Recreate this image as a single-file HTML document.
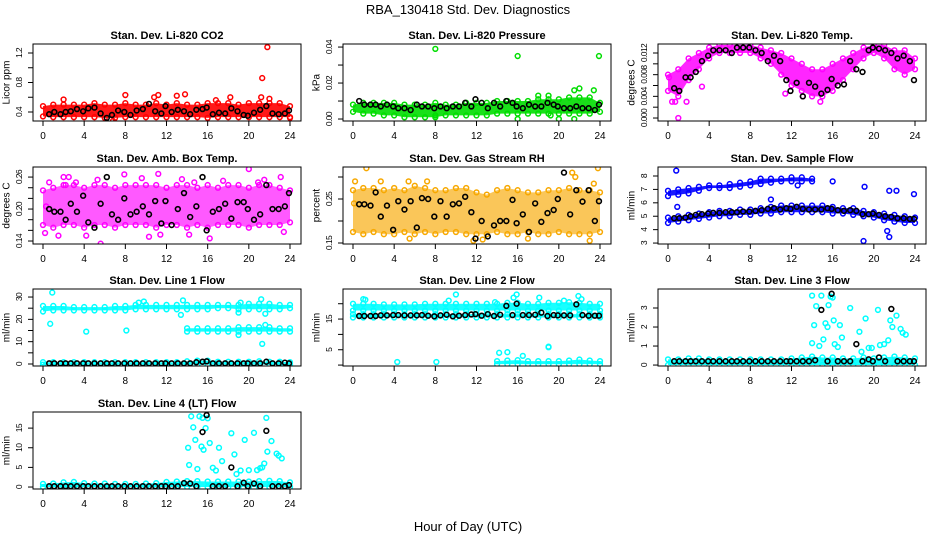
<!DOCTYPE html>
<html><head><meta charset="utf-8"><style>
html,body{margin:0;padding:0;background:#fff;}
svg{display:block;font-family:"Liberation Sans",Arial,sans-serif;}
</style></head><body>
<svg id="chart" width="936" height="540" viewBox="0 0 936 540" xmlns="http://www.w3.org/2000/svg">
<rect width="936" height="540" fill="#fff"/>
<text x="468" y="14" text-anchor="middle" font-size="13">RBA_130418  Std. Dev. Diagnostics</text>
<text x="468" y="531" text-anchor="middle" font-size="13">Hour of Day (UTC)</text>
</svg>
<script>
const bandHours = [0,1,2,3,4,5,6,7,8,9,10,11,12,13,14,15,16,17,18,19,20,21,22,23,24];
const blackHours = [0.6,1.1,1.7,2.2,2.7,3.3,3.9,4.4,5.0,5.6,6.2,6.7,7.3,7.9,8.5,9.1,9.7,10.3,10.9,11.5,11.9,12.5,13.1,13.7,14.3,14.9,15.5,15.9,16.5,17.1,17.7,18.3,18.9,19.5,19.9,20.5,21.1,21.7,22.3,22.9,23.5,23.9];
const xTicks = [0,4,8,12,16,20,24];

// Panel 1: CO2
const p1Lo = [0.34,0.33,0.33,0.33,0.33,0.33,0.32,0.32,0.33,0.33,0.33,0.33,0.33,0.33,0.33,0.33,0.32,0.33,0.33,0.33,0.33,0.33,0.33,0.33,0.33];
const p1Hi = [0.48,0.5,0.5,0.5,0.5,0.52,0.5,0.5,0.52,0.5,0.5,0.52,0.5,0.52,0.5,0.5,0.52,0.52,0.52,0.5,0.52,0.52,0.52,0.52,0.48];
const p1OutX = [2,8,11.2,13,13.8,18.2,21.3,21.8,21.2,22,6.8,24,16.8,10.8];
const p1OutY = [0.57,0.63,0.63,0.62,0.64,0.6,0.86,1.28,0.6,0.58,0.28,0.32,0.56,0.6];
const p1Black = [0.37,0.4,0.37,0.4,0.41,0.44,0.41,0.45,0.46,0.38,0.32,0.36,0.42,0.4,0.36,0.42,0.44,0.51,0.41,0.38,0.48,0.4,0.43,0.41,0.37,0.43,0.44,0.46,0.37,0.39,0.38,0.45,0.41,0.36,0.35,0.39,0.43,0.48,0.38,0.37,0.38,0.42];
const p1Ticks = [0.4,0.6,0.8,1.0,1.2];
const p1Labels = ["0.4","","0.8","","1.2"];

// Panel 2: Pressure
const p2Lo = [0.004,0.003,0.003,0.002,0.002,0.001,0.001,0.001,0.001,0.002,0.002,0.002,0.002,0.002,0.003,0.003,0.003,0.003,0.003,0.003,0.003,0.003,0.003,0.003,0.004];
const p2Hi = [0.008,0.009,0.009,0.009,0.009,0.008,0.008,0.008,0.009,0.008,0.008,0.009,0.009,0.009,0.01,0.01,0.01,0.01,0.011,0.011,0.011,0.012,0.012,0.012,0.009];
const p2OutX = [8,16,23.9,21.5,22,23.4,18,19,16,21.5,20,8,19.2];
const p2OutY = [0.039,0.035,0.035,0.016,0.017,0.016,0.013,0.013,0.0,0.0,0.0,0.002,0.002];
const p2Black = [0.01,0.008,0.008,0.008,0.007,0.008,0.007,0.006,0.006,0.005,0.008,0.007,0.007,0.006,0.007,0.006,0.007,0.007,0.009,0.007,0.011,0.009,0.006,0.009,0.007,0.01,0.009,0.007,0.006,0.008,0.007,0.007,0.009,0.008,0.007,0.006,0.006,0.007,0.006,0.006,0.005,0.008];
const p2Ticks = [0,0.01,0.02,0.03,0.04];
const p2Labels = ["0.00","","0.02","","0.04"];

// Panel 3: Temp
const p3Lo = [0.005,0.004,0.007,0.009,0.011,0.012,0.012,0.012,0.012,0.011,0.010,0.008,0.006,0.005,0.004,0.004,0.005,0.007,0.009,0.011,0.012,0.011,0.009,0.008,0.009];
const p3Hi = [0.008,0.009,0.011,0.012,0.013,0.0135,0.0135,0.0135,0.0135,0.013,0.0125,0.012,0.011,0.010,0.009,0.009,0.010,0.011,0.012,0.013,0.0135,0.0135,0.0125,0.0125,0.011];
const p3OutX = [1,0.4,0.7,1.8,3.3,11.4,14.8,13.1,0.1];
const p3OutY = [0,0.003,0.003,0.003,0.0058,0.0045,0.003,0.004,0.0075];
const p3Black = [0.0055,0.005,0.0075,0.0075,0.0085,0.0105,0.0115,0.0125,0.0125,0.0125,0.012,0.013,0.013,0.013,0.0125,0.012,0.0105,0.0115,0.0105,0.007,0.005,0.0065,0.004,0.0065,0.0058,0.0045,0.0052,0.0072,0.006,0.0062,0.0105,0.009,0.0085,0.0125,0.013,0.0128,0.0125,0.012,0.011,0.0115,0.0105,0.007];
const p3Ticks = [0,0.002,0.004,0.006,0.008,0.010,0.012];
const p3Labels = ["0.000","","0.004","","0.008","","0.012"];

// Panel 4: Amb box temp
const p4Lo = [0.17,0.165,0.17,0.17,0.165,0.17,0.17,0.165,0.17,0.17,0.17,0.165,0.17,0.17,0.165,0.17,0.165,0.17,0.17,0.17,0.165,0.17,0.17,0.17,0.175];
const p4Hi = [0.235,0.24,0.245,0.245,0.24,0.245,0.245,0.24,0.245,0.245,0.245,0.245,0.24,0.245,0.245,0.24,0.245,0.24,0.245,0.245,0.24,0.245,0.245,0.24,0.235];
const p4OutX = [0.2,0.6,1.5,2.0,2.5,3.2,4.2,5.6,5.3,7.9,9.6,10.3,11.2,11.4,13.5,14.7,14.2,16.2,17.5,20,21.5,23.1,23.4,20.9,2.2,0.3];
const p4OutY = [0.155,0.25,0.15,0.26,0.26,0.25,0.15,0.135,0.255,0.265,0.258,0.148,0.266,0.152,0.256,0.25,0.152,0.145,0.253,0.275,0.255,0.26,0.157,0.25,0.245,0.205];
const p4Black = [0.2,0.195,0.195,0.18,0.21,0.195,0.225,0.175,0.165,0.21,0.26,0.19,0.18,0.22,0.19,0.195,0.205,0.19,0.215,0.173,0.215,0.17,0.2,0.23,0.185,0.205,0.26,0.16,0.195,0.2,0.21,0.182,0.213,0.213,0.2,0.18,0.19,0.245,0.2,0.2,0.205,0.23];
const p4Ticks = [0.14,0.16,0.18,0.20,0.22,0.24,0.26];
const p4Labels = ["0.14","","","0.20","","","0.26"];

// Panel 5: Gas stream RH
const p5Lo = [0.175,0.17,0.175,0.17,0.17,0.175,0.17,0.175,0.17,0.175,0.175,0.17,0.17,0.17,0.175,0.17,0.17,0.175,0.17,0.17,0.175,0.17,0.17,0.17,0.175];
const p5Hi = [0.27,0.275,0.275,0.27,0.275,0.27,0.28,0.275,0.27,0.27,0.275,0.275,0.265,0.26,0.27,0.275,0.27,0.265,0.265,0.27,0.27,0.275,0.27,0.27,0.265];
const p5OutX = [0.2,1.3,2.7,5.4,7.2,0.1,21.3,21.6,23.8,23.4,23,12.6,17,5.5,11.7];
const p5OutY = [0.29,0.32,0.29,0.29,0.29,0.24,0.31,0.3,0.32,0.285,0.155,0.158,0.16,0.16,0.155];
const p5Black = [0.238,0.238,0.235,0.265,0.21,0.235,0.18,0.245,0.226,0.245,0.185,0.252,0.25,0.21,0.245,0.21,0.238,0.24,0.255,0.22,0.16,0.2,0.165,0.19,0.2,0.2,0.248,0.195,0.215,0.175,0.24,0.198,0.218,0.225,0.25,0.31,0.215,0.27,0.244,0.27,0.2,0.245];
const p5Ticks = [0.15,0.20,0.25,0.30];
const p5Labels = ["0.15","","0.25",""];

// Panel 6: Sample flow
const p6Lo = [4.5,4.6,4.7,4.8,4.9,5.0,5.0,5.1,5.1,5.2,5.2,5.3,5.3,5.3,5.3,5.3,5.2,5.2,5.1,5.0,4.9,4.7,4.6,4.5,4.5];
const p6Hi = [4.9,5.0,5.1,5.2,5.3,5.4,5.4,5.5,5.5,5.6,5.7,5.8,5.8,5.8,5.8,5.8,5.7,5.6,5.6,5.4,5.3,5.2,5.1,5.0,4.9];
const p6Lo2 = [6.5,6.6,6.7,6.9,7.1,7.1,7.1,7.2,7.3,7.4,7.5,7.6,7.6,7.6,7.6,null,null,null,null,null,null,null,null,null,null];
const p6Hi2 = [6.9,7.0,7.1,7.2,7.3,7.3,7.4,7.5,7.6,7.8,7.8,7.8,7.9,7.9,7.8,null,null,null,null,null,null,null,null,null,null];
const p6OutX = [0.8,0.9,16,19.1,21.5,22.2,23.9,19,21.5,21.3,10,12.6];
const p6OutY = [8.4,5.7,7.6,7.2,6.9,6.9,6.65,3.15,3.45,3.9,6.25,7.3];
const p6Black = [4.85,4.85,4.9,5.0,5.1,5.15,5.2,5.25,5.25,5.3,5.3,5.3,5.35,5.35,5.4,5.45,5.55,5.6,5.5,5.6,5.55,5.7,5.55,5.5,5.5,5.5,5.6,5.55,5.45,5.4,5.45,5.4,5.15,5.15,5.2,5.1,5.0,4.95,4.85,4.85,4.8,4.8];
const p6Ticks = [3,4,5,6,7,8];
const p6Labels = ["3","4","5","6","7","8"];

// Panel 7: Line 1 flow
const p7Lo = [23.5,24,24,24,24,24,24,24,24,24.5,24.5,24.5,24.5,24.5,24.5,24.5,24.5,25,25,24.5,24.5,24.5,24.5,24.5,25];
const p7Hi = [26,26,26,25.5,25.5,25.5,25.5,26,26,26.5,26.5,26.5,26.5,26.5,26.5,26.5,26.5,26.5,26.5,26.5,27,27,27,26.5,26.5];
const p7Lo2 = [null,null,null,null,null,null,null,null,null,null,null,null,null,null,14.5,14.5,14.5,14.5,14.5,14.5,14.5,14.5,14.5,14.5,14.5];
const p7Hi2 = [null,null,null,null,null,null,null,null,null,null,null,null,null,null,16,16,16,16,16,16.5,16.5,16.5,16.5,16,16];
const p7Lo3 = [-0.3,-0.3,-0.3,-0.3,-0.3,-0.3,-0.3,-0.3,-0.3,-0.3,-0.3,-0.3,-0.3,-0.3,-0.3,-0.3,-0.3,-0.3,-0.3,-0.3,-0.3,-0.3,-0.3,-0.3,-0.3];
const p7Hi3 = [0.8,0.8,0.8,0.8,0.8,0.8,0.8,0.8,0.8,0.8,0.8,0.8,0.8,0.8,1.2,1.5,1.5,1.0,1.0,1.0,1.0,1.2,1.0,1.0,0.8];
const p7OutX = [0.9,0.7,4.2,8.1,9.3,9.8,13.6,13.4,21.2,21.3,19,21.6,21.6,19.2,19];
const p7OutY = [32,18,14.5,15,27.5,28,28.5,22,29,9,23,17.5,22.5,27.5,13];
const p7Black = [0.3,0.3,0.3,0.3,0.3,0.3,0.3,0.3,0.3,0.3,0.3,0.3,0.3,0.3,0.3,0.3,0.3,0.3,0.3,0.3,0.3,0.3,0.3,0.3,0.3,0.8,1.0,1.2,0.3,0.3,0.3,0.3,0.3,0.3,0.3,0.3,0.3,1.0,0.3,0.3,0.6,0.3];
const p7Ticks = [0,5,10,15,20,25,30];
const p7Labels = ["0","","10","","20","","30"];

// Panel 8: Line 2 flow
const p8Lo = [17.8,17.8,17.8,17.8,17.8,17.8,17.8,17.8,17.8,17.8,17.8,17.8,17.8,17.8,17.8,17.8,17.8,17.8,17.8,17.8,17.8,17.8,17.8,17.8,17.8];
const p8Hi = [20,20,20,19.8,19.8,19.8,19.8,20,20,20,20,20,20,20,20,20.3,20.3,20,20,20.3,20.3,20.5,20.3,20,20];
const p8Lo2 = [15.5,15.5,15.5,15.5,15.5,15.5,15.5,15.5,15.5,15.5,15.5,15.5,15.5,15.5,15.5,15.5,15.5,15.5,15.5,15.5,15.5,15.5,15.5,15.5,15.5];
const p8Hi2 = [16.6,16.6,16.6,16.6,16.6,16.6,16.6,16.6,16.6,16.6,16.6,16.6,16.6,16.6,16.6,16.6,16.6,16.6,16.6,16.6,16.6,16.6,16.6,16.6,16.6];
const p8Lo3 = [null,null,null,null,null,null,null,null,null,null,null,null,null,null,0.3,0.3,0.3,0.3,0.3,0.3,0.3,0.3,0.3,0.3,0.3];
const p8Hi3 = [null,null,null,null,null,null,null,null,null,null,null,null,null,null,1.3,1.5,1.6,1.3,1.3,1.3,1.3,1.5,1.8,1.5,1.3];
const p8OutX = [1,1.2,4.3,8.1,9.3,10,15.6,15.9,18.1,19,20.5,21.9,22.2,14.2,15,19,13.8,16.5];
const p8OutY = [21.5,21.3,1.0,1.0,21,23,22,23,22,6,21,22.5,21.5,4,4.2,5.8,20.5,3];
const p8Black = [16,16,16,16,16.2,16.2,16.3,16.3,16.2,16.2,16.2,16.3,16.1,15.9,16.2,16.4,15.9,16.1,16.3,16.5,16.6,16.1,16.6,16.0,16.4,19.3,16.3,20.0,16.3,16.3,16.4,17.1,16.0,16.3,16.2,16.2,16.2,19.8,16.3,16.1,16.1,16.1];
const p8Ticks = [0,5,10,15,20];
const p8Labels = ["","5","","15",""];

// Panel 9: Line 3 flow
const p9Lo = [0,0,0,0,0,0,0,0,0,0,0,0,0,0,0,0,0,0,0,0,0,0,0,0,0];
const p9Hi = [0.3,0.3,0.35,0.35,0.3,0.3,0.3,0.3,0.3,0.3,0.3,0.3,0.35,0.4,0.45,0.4,0.4,0.35,0.35,0.4,0.35,0.4,0.45,0.4,0.35];
const p9OutX = [14,14.2,14.4,14.7,14.9,15.1,15.3,15.5,15.6,15.8,16,16.1,16.2,16.5,16.7,16.9,17.7,18.6,18.8,19.2,19.5,19.8,20.4,20.6,21,21.4,21.6,21.8,22.2,22.6,23.1,22.8,14];
const p9OutY = [3.65,2.1,3.1,1.0,3.65,1.35,2.2,2.0,3.15,3.6,3.55,2.35,1.1,0.95,2.1,1.45,3.0,1.75,0.7,2.45,0.9,0.9,2.9,1.05,1.1,1.3,2.35,2.0,2.6,1.9,1.6,1.7,1.15];
const p9Black = [0.2,0.2,0.2,0.2,0.2,0.2,0.2,0.2,0.2,0.2,0.2,0.2,0.2,0.2,0.2,0.2,0.2,0.2,0.2,0.2,0.2,0.2,0.2,0.2,0.25,2.9,0.2,3.75,0.2,0.2,0.2,1.1,0.2,0.3,0.2,0.4,0.2,2.95,0.2,0.2,0.2,0.2];
const p9Ticks = [0,1,2,3];
const p9Labels = ["0","1","2","3"];

// Panel 10: Line 4 (LT) flow
const p10Lo = [0,0,0,0,0,0,0,0,0,0,0,0,0,0,0,0,0,0,0,0,0,0,0,0,0];
const p10Hi = [0.8,0.9,1.2,1.3,1.0,0.9,0.9,0.8,0.8,0.8,0.9,1.0,1.3,1.4,1.5,1.5,1.4,1.4,1.4,1.4,1.4,1.5,1.6,1.5,1.2];
const p10OutX = [14.1,14.2,14.4,14.6,14.8,15,15.2,15.4,15.6,15.8,16,16.2,16.5,16.8,17.1,17.4,18.3,18.6,18.8,19.2,19.6,20,20.5,20.8,21.1,21.3,21.5,21.7,21.8,22.2,22.7,22.9,23.2,15.5];
const p10OutY = [10,5.6,18,15.2,12,4.6,18,10.3,9.5,15,17.5,11.2,4.9,4.2,10,6.6,13.7,8.3,3.3,4.2,12,4.3,13.8,4.3,4.8,5,6,17.6,9,11.7,8.5,8,7.3,17.6];
const p10Black = [0.2,0.2,0.2,0.2,0.2,0.2,0.2,0.2,0.2,0.2,0.2,0.2,0.2,0.2,0.2,0.2,0.2,0.2,0.2,0.2,0.2,0.2,0.2,1.0,0.9,0.2,14,18.3,0.2,0.2,0.2,5,0.2,1.1,0.2,0.9,0.2,14.3,0.2,0.2,0.2,0.5];
const p10Ticks = [0,5,10,15];
const p10Labels = ["0","5","10","15"];

const NS = "http://www.w3.org/2000/svg";
const svg = document.getElementById("chart");
function mk(tag, attrs, parent) {
  const e = document.createElementNS(NS, tag);
  for (const k in attrs) e.setAttribute(k, attrs[k]);
  (parent || svg).appendChild(e);
  return e;
}

const colLeft = [33, 343, 658];
const rowTop = [44, 167, 289, 412];
const boxW = 268, boxH = 77;

function panel(slug, title, ylab, col, row, ymin, ymax, ticks, labels, color, bandOpacity, bands, outX, outY, black) {
  const L = colLeft[col], T = rowTop[row], B = T + boxH;
  const g = mk("g", {});
  
  
  const sx = h => L + 10 + h * (247 / 24);
  const sy = v => B - (v - ymin) / (ymax - ymin) * boxH;
  const clipId = "clip-" + slug;
  const cp = mk("clipPath", {id: clipId}, g);
  mk("rect", {x: L, y: T, width: boxW, height: boxH}, cp);
  const marks = mk("g", {"clip-path": "url(#" + clipId + ")"}, g);
  
  
  bands.forEach((bd, bi) => {
    const lo = bd[0], hi = bd[1];
    const idx = [];
    for (let i = 0; i < bandHours.length; i++) if (lo[i] !== null && hi[i] !== null) idx.push(i);
    if (!idx.length) return;
    let pts = idx.map(i => sx(bandHours[i]) + "," + sy(hi[i]));
    pts = pts.concat(idx.slice().reverse().map(i => sx(bandHours[i]) + "," + sy(lo[i])));
    const p = mk("polygon", {points: pts.join(" "), fill: color, "fill-opacity": bandOpacity, stroke: "none"}, marks);
    
    
    idx.forEach(i => {
      [lo[i], hi[i]].forEach(v => {
        const c = mk("circle", {cx: sx(bandHours[i]), cy: sy(v), r: 2.4, fill: "none", stroke: color, "stroke-width": 1.5}, marks);
        
        
      });
    });
  });
  for (let i = 0; i < outX.length; i++) {
    const c = mk("circle", {cx: sx(outX[i]), cy: sy(outY[i]), r: 2.4, fill: "none", stroke: color, "stroke-width": 1.5}, marks);
    
    
  }
  for (let i = 0; i < black.length; i++) {
    const c = mk("circle", {cx: sx(blackHours[i]), cy: sy(black[i]), r: 2.4, fill: "none", stroke: "#000", "stroke-width": 1.6}, marks);
    
    
  }
  const bx = mk("rect", {x: L, y: T, width: boxW, height: boxH, fill: "none", stroke: "#000", "stroke-width": 1}, g);
  
  
  const xa = mk("g", {}, g);
  
  
  mk("line", {x1: sx(xTicks[0]), x2: sx(xTicks[xTicks.length - 1]), y1: B, y2: B, stroke: "#000"}, xa);
  xTicks.forEach(t => {
    mk("line", {x1: sx(t), x2: sx(t), y1: B, y2: B + 5, stroke: "#000"}, xa);
    const tx = mk("text", {x: sx(t), y: B + 18, "text-anchor": "middle", "font-size": 10}, xa);
    
    
    tx.textContent = String(t);
  });
  const ya = mk("g", {}, g);
  
  
  mk("line", {x1: L, x2: L, y1: sy(ticks[0]), y2: sy(ticks[ticks.length - 1]), stroke: "#000"}, ya);
  ticks.forEach((t, i) => {
    mk("line", {x1: L - 5, x2: L, y1: sy(t), y2: sy(t), stroke: "#000"}, ya);
    if (labels[i]) {
      const yy = sy(t), xx = L - 14;
      const tx = mk("text", {x: xx, y: yy, "text-anchor": "middle", "dominant-baseline": "central", "font-size": 8.5, "letter-spacing": "-0.6", transform: "rotate(-90 " + xx + " " + yy + ")"}, ya);
      
      
      tx.textContent = labels[i];
    }
  });
  const cy = T + boxH / 2, cx = L - 26;
  const yt = mk("text", {x: cx, y: cy, "text-anchor": "middle", "dominant-baseline": "central", "font-size": 10, transform: "rotate(-90 " + cx + " " + cy + ")"}, g);
  
  
  yt.textContent = ylab;
  const tt = mk("text", {x: L + boxW / 2, y: T - 5, "text-anchor": "middle", "font-size": 11, "font-weight": "bold"}, g);
  
  
  tt.textContent = title;
}

panel("co2", "Stan. Dev. Li-820 CO2", "Licor ppm", 0, 0, 0.278, 1.322, p1Ticks, p1Labels, "#ff0000", 0.9, [[p1Lo, p1Hi]], p1OutX, p1OutY, p1Black);
panel("pressure", "Stan. Dev. Li-820 Pressure", "kPa", 1, 0, -0.0011, 0.0417, p2Ticks, p2Labels, "#00dd00", 0.9, [[p2Lo, p2Hi]], p2OutX, p2OutY, p2Black);
panel("li820-temp", "Stan. Dev. Li-820 Temp.", "degrees C", 2, 0, -0.00055, 0.01366, p3Ticks, p3Labels, "#ff00ff", 0.85, [[p3Lo, p3Hi]], p3OutX, p3OutY, p3Black);
panel("amb-box-temp", "Stan. Dev. Amb. Box Temp.", "degrees C", 0, 1, 0.1344, 0.2789, p4Ticks, p4Labels, "#ff00ff", 0.65, [[p4Lo, p4Hi]], p4OutX, p4OutY, p4Black);
panel("gas-rh", "Stan. Dev. Gas Stream RH", "percent", 1, 1, 0.1477, 0.3227, p5Ticks, p5Labels, "#f7a800", 0.65, [[p5Lo, p5Hi]], p5OutX, p5OutY, p5Black);
panel("sample-flow", "Stan. Dev. Sample Flow", "ml/min", 2, 1, 2.93, 8.67, p6Ticks, p6Labels, "#0000ff", 0.9, [[p6Lo, p6Hi], [p6Lo2, p6Hi2]], p6OutX, p6OutY, p6Black);
panel("line1-flow", "Stan. Dev. Line 1 Flow", "ml/min", 0, 2, -0.9, 33.6, p7Ticks, p7Labels, "#00ffff", 0.9, [[p7Lo, p7Hi], [p7Lo2, p7Hi2], [p7Lo3, p7Hi3]], p7OutX, p7OutY, p7Black);
panel("line2-flow", "Stan. Dev. Line 2 Flow", "ml/min", 1, 2, -0.3, 24.8, p8Ticks, p8Labels, "#00ffff", 0.9, [[p8Lo, p8Hi], [p8Lo2, p8Hi2], [p8Lo3, p8Hi3]], p8OutX, p8OutY, p8Black);
panel("line3-flow", "Stan. Dev. Line 3 Flow", "ml/min", 2, 2, -0.05, 4.0, p9Ticks, p9Labels, "#00ffff", 0.9, [[p9Lo, p9Hi]], p9OutX, p9OutY, p9Black);
panel("line4-flow", "Stan. Dev. Line 4 (LT) Flow", "ml/min", 0, 3, -0.5, 19.1, p10Ticks, p10Labels, "#00ffff", 0.9, [[p10Lo, p10Hi]], p10OutX, p10OutY, p10Black);
</script>
</body></html>
